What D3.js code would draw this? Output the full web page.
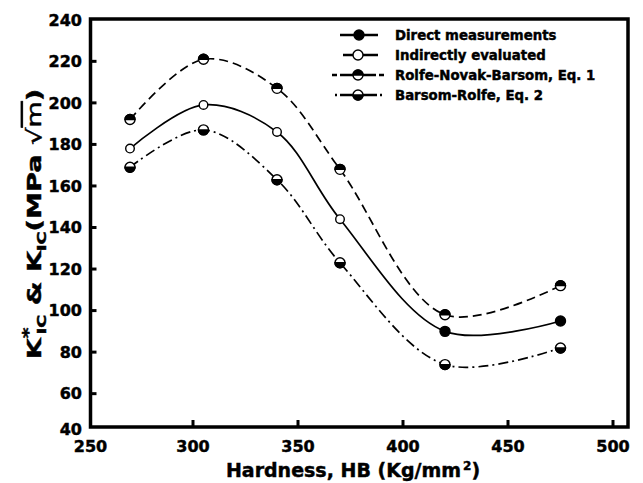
<!DOCTYPE html>
<html>
<head>
<meta charset="utf-8">
<script src="https://cdn.jsdelivr.net/npm/d3@7"></script>
<style>
  html, body { margin: 0; padding: 0; background: #fff; }
  svg { display: block; }
  text { font-family: "DejaVu Sans", sans-serif; font-weight: bold; fill: #000; stroke: #000; stroke-width: 0.45px; }
</style>
</head>
<body>
<svg id="chart" width="643" height="483"></svg>
<script>
// ---------------- data ----------------
const hardness = [270, 305, 340, 370, 420, 475];
const rolfeNovakBarsom = [192, 221, 207, 168, 98, 112];      // Eq. 1
const kicValues = [178, 199, 186, 144, 90, 95];              // measured / evaluated
const kicSource = ["indirect", "indirect", "indirect", "indirect", "direct", "direct"];
const barsomRolfe = [169, 187, 163, 123, 74, 82];            // Eq. 2
const xTickValues = [250, 300, 350, 400, 450, 500];
const yTickValues = [40, 60, 80, 100, 120, 140, 160, 180, 200, 220, 240];
const legendLabels = ["Direct measurements", "Indirectly evaluated", "Rolfe-Novak-Barsom, Eq. 1", "Barsom-Rolfe, Eq. 2"];

// ---------------- layout ----------------
const svg = d3.select("#chart");
const frame = { left: 90.5, right: 628, top: 19, bottom: 427 };
const x = d3.scaleLinear().domain([250, 500]).range([88, 613]);
const y = d3.scaleLinear().domain([40, 240]).range([435.2, 19.8]);

// frame
svg.append("rect")
  .attr("x", frame.left).attr("y", frame.top)
  .attr("width", frame.right - frame.left).attr("height", frame.bottom - frame.top)
  .attr("fill", "none").attr("stroke", "#000").attr("stroke-width", 3.5);

// ticks (inward)
svg.append("g").selectAll("line").data(yTickValues.filter(v => v > 40 && v < 240)).join("line")
  .attr("x1", frame.left).attr("x2", frame.left + 6)
  .attr("y1", d => y(d)).attr("y2", d => y(d))
  .attr("stroke", "#000").attr("stroke-width", 3);
svg.append("g").selectAll("line").data(xTickValues.filter(v => v > 250)).join("line")
  .attr("x1", d => x(d)).attr("x2", d => x(d))
  .attr("y1", frame.bottom).attr("y2", frame.bottom - 7)
  .attr("stroke", "#000").attr("stroke-width", 3);

// tick labels
svg.append("g").selectAll("text").data(yTickValues).join("text")
  .attr("x", 82)
  .attr("y", d => Math.max(16, Math.min(429, y(d))))
  .attr("dy", "0.36em")
  .attr("text-anchor", "end")
  .attr("font-size", 16)
  .text(d => d);
svg.append("g").selectAll("text").data(xTickValues).join("text")
  .attr("x", d => d === 250 ? frame.left : x(d))
  .attr("y", 452)
  .attr("text-anchor", "middle")
  .attr("font-size", 16)
  .text(d => d);

// axis titles
const xt = svg.append("text").attr("x", 353).attr("y", 477)
  .attr("text-anchor", "middle").attr("font-size", 19);
xt.append("tspan").text("Hardness, HB (Kg/mm");
xt.append("tspan").attr("font-size", 12).attr("dy", -7).attr("dx", 2).text("2");
xt.append("tspan").attr("dy", 7).text(")");

const yt = svg.append("text").attr("transform", "translate(41,224) rotate(-90) scale(1.36,1)")
  .attr("text-anchor", "middle").attr("font-size", 20);
yt.append("tspan").text("K");
yt.append("tspan").attr("font-size", 15).attr("dy", -7).text("*");
yt.append("tspan").attr("font-size", 13).attr("dx", -5).attr("dy", 12).text("IC");
yt.append("tspan").attr("dy", -5).text(" & K");
yt.append("tspan").attr("font-size", 13).attr("dy", 5).text("IC");
yt.append("tspan").attr("dy", -5).text("(MPa ");
yt.append("tspan").attr("font-weight", "normal").text("\u221A");
yt.append("tspan").attr("font-weight", "normal").style("text-decoration", "overline").text("m");
yt.append("tspan").text(")");

// ---------------- curves ----------------
const line = d3.line().x(d => x(d[0])).y(d => y(d[1])).curve(d3.curveCatmullRom.alpha(0.5));
const series = [
  { vals: rolfeNovakBarsom, dash: "9,5" },
  { vals: kicValues, dash: null },
  { vals: barsomRolfe, dash: "10,4,2,4" }
];
series.forEach(s => {
  svg.append("path")
    .attr("d", line(hardness.map((h, i) => [h, s.vals[i]])))
    .attr("fill", "none").attr("stroke", "#000").attr("stroke-width", 1.7)
    .attr("stroke-dasharray", s.dash);
});

// ---------------- markers ----------------
function halfMarker(g, cx, cy, r, topBlack) {
  g.append("circle").attr("cx", cx).attr("cy", cy).attr("r", r)
    .attr("fill", "#fff").attr("stroke", "#000").attr("stroke-width", 1.4);
  g.append("path")
    .attr("d", `M${cx - r},${cy} A${r},${r} 0 0 ${topBlack ? 1 : 0} ${cx + r},${cy} Z`)
    .attr("fill", "#000").attr("stroke", "#000").attr("stroke-width", 1.4);
}
function fullMarker(g, cx, cy, r, filled) {
  g.append("circle").attr("cx", cx).attr("cy", cy).attr("r", r)
    .attr("fill", filled ? "#000" : "#fff").attr("stroke", "#000").attr("stroke-width", 1.4);
}
const mg = svg.append("g");
hardness.forEach((h, i) => {
  halfMarker(mg, x(h), y(rolfeNovakBarsom[i]), 5, true);
  halfMarker(mg, x(h), y(barsomRolfe[i]), 5, false);
  if (kicSource[i] === "direct") fullMarker(mg, x(h), y(kicValues[i]), 5, true);
  else fullMarker(mg, x(h), y(kicValues[i]), 4.3, false);
});

// ---------------- legend ----------------
const lg = svg.append("g");
const rowY = [35, 55, 75, 95];
const legendStyle = [
  { x1: 340, x2: 378, dash: null, marker: "filled" },
  { x1: 343, x2: 378, dash: null, marker: "open" },
  { x1: 332, x2: 384, dash: "5,3,36,3,5", marker: "top" },
  { x1: 335, x2: 382, dash: "2,3,37,3,2", marker: "bottom" }
];
legendLabels.forEach((lab, i) => {
  const st = legendStyle[i];
  const cy = rowY[i];
  lg.append("line").attr("x1", st.x1).attr("x2", st.x2).attr("y1", cy).attr("y2", cy)
    .attr("stroke", "#000").attr("stroke-width", 2.7).attr("stroke-dasharray", st.dash);
  if (st.marker === "filled") fullMarker(lg, 359, cy, 5, true);
  else if (st.marker === "open") fullMarker(lg, 358, cy, 5, false);
  else halfMarker(lg, 358, cy, 5, st.marker === "top");
  lg.append("text").attr("x", 395).attr("y", cy + 4.6).attr("font-size", 13.3).text(lab);
});
</script>
</body>
</html>
